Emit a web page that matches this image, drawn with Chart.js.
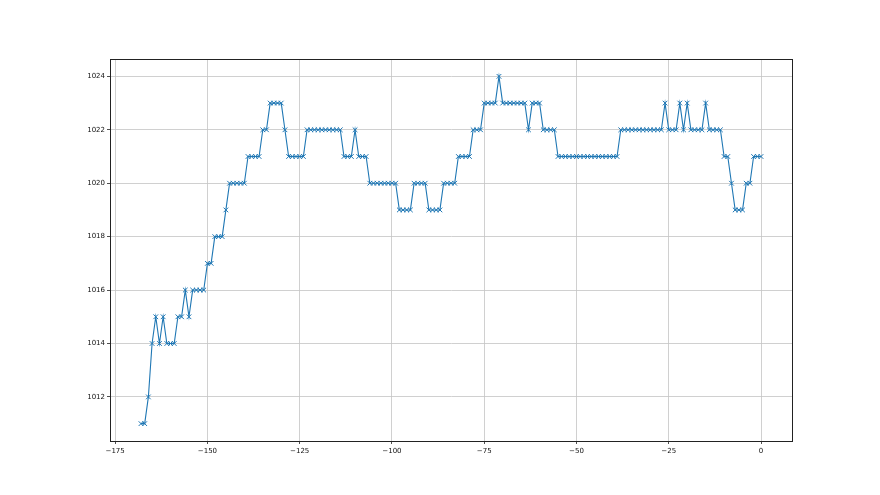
<!DOCTYPE html>
<html>
<head>
<meta charset="utf-8">
<script src="https://cdn.jsdelivr.net/npm/chart.js@4/dist/chart.umd.min.js"></script>
<style>
  html, body { margin: 0; padding: 0; background: #ffffff; }
  #c { display: block; }
</style>
</head>
<body>
<canvas id="c" width="880" height="495"></canvas>
<script>
// Hours relative to now
const hours = [
  -168,-167,-166,-165,-164,-163,-162,-161,-160,-159,-158,-157,-156,-155,-154,-153,-152,-151,-150,-149,
  -148,-147,-146,-145,-144,-143,-142,-141,-140,-139,-138,-137,-136,-135,-134,-133,-132,-131,-130,-129,
  -128,-127,-126,-125,-124,-123,-122,-121,-120,-119,-118,-117,-116,-115,-114,-113,-112,-111,-110,-109,
  -108,-107,-106,-105,-104,-103,-102,-101,-100,-99,-98,-97,-96,-95,-94,-93,-92,-91,-90,-89,
  -88,-87,-86,-85,-84,-83,-82,-81,-80,-79,-78,-77,-76,-75,-74,-73,-72,-71,-70,-69,
  -68,-67,-66,-65,-64,-63,-62,-61,-60,-59,-58,-57,-56,-55,-54,-53,-52,-51,-50,-49,
  -48,-47,-46,-45,-44,-43,-42,-41,-40,-39,-38,-37,-36,-35,-34,-33,-32,-31,-30,-29,
  -28,-27,-26,-25,-24,-23,-22,-21,-20,-19,-18,-17,-16,-15,-14,-13,-12,-11,-10,-9,
  -8,-7,-6,-5,-4,-3,-2,-1,0
];
// Pressure readings (hPa)
const pressure = [
  1011,1011,1012,1014,1015,1014,1015,1014,1014,1014,1015,1015,1016,1015,1016,1016,1016,1016,1017,1017,
  1018,1018,1018,1019,1020,1020,1020,1020,1020,1021,1021,1021,1021,1022,1022,1023,1023,1023,1023,1022,
  1021,1021,1021,1021,1021,1022,1022,1022,1022,1022,1022,1022,1022,1022,1022,1021,1021,1021,1022,1021,
  1021,1021,1020,1020,1020,1020,1020,1020,1020,1020,1019,1019,1019,1019,1020,1020,1020,1020,1019,1019,
  1019,1019,1020,1020,1020,1020,1021,1021,1021,1021,1022,1022,1022,1023,1023,1023,1023,1024,1023,1023,
  1023,1023,1023,1023,1023,1022,1023,1023,1023,1022,1022,1022,1022,1021,1021,1021,1021,1021,1021,1021,
  1021,1021,1021,1021,1021,1021,1021,1021,1021,1021,1022,1022,1022,1022,1022,1022,1022,1022,1022,1022,
  1022,1022,1023,1022,1022,1022,1023,1022,1023,1022,1022,1022,1022,1023,1022,1022,1022,1022,1021,1021,
  1020,1019,1019,1019,1020,1020,1021,1021,1021
];
const xTicks = [-175, -150, -125, -100, -75, -50, -25, 0];
const yTicks = [1012, 1014, 1016, 1018, 1020, 1022, 1024];

const points = hours.map((h, i) => ({ x: h, y: pressure[i] }));

const frameBox = {
  id: 'frameBox',
  afterDraw(chart) {
    const a = chart.chartArea;
    const ctx = chart.ctx;
    ctx.save();
    ctx.strokeStyle = '#222222';
    ctx.lineWidth = 1;
    ctx.strokeRect(Math.round(a.left) + 0.5, Math.round(a.top) + 0.5,
                   Math.round(a.right - a.left), Math.round(a.bottom - a.top));
    ctx.restore();
  }
};

const whiteBg = {
  id: 'whiteBg',
  beforeDraw(chart) {
    const ctx = chart.ctx;
    ctx.save();
    ctx.fillStyle = '#ffffff';
    ctx.fillRect(0, 0, chart.width, chart.height);
    ctx.restore();
  }
};

const fmt = v => String(v).replace('-', '\u2212');
const tickFont = { family: 'DejaVu Sans', size: 7 };

new Chart(document.getElementById('c'), {
  type: 'line',
  data: {
    datasets: [{
      data: points,
      borderColor: '#1f77b4',
      backgroundColor: '#1f77b4',
      borderWidth: 1.1,
      pointStyle: 'crossRot',
      pointRadius: 3.3,
      pointBorderWidth: 1,
      pointBorderColor: '#1f77b4',
      pointHoverRadius: 3.3,
      tension: 0,
      fill: false
    }]
  },
  options: {
    responsive: false,
    animation: false,
    events: [],
    layout: { padding: { left: 0, right: 88, top: 59, bottom: 0 } },
    plugins: { legend: { display: false }, tooltip: { enabled: false } },
    scales: {
      x: {
        type: 'linear',
        min: -176.4,
        max: 8.4,
        afterBuildTicks: axis => { axis.ticks = xTicks.map(v => ({ value: v })); },
        afterFit: axis => { axis.height = 54; },
        grid: { color: '#c4c4c4', lineWidth: 0.8, tickColor: '#222222', tickLength: 3, drawTicks: true },
        border: { display: true, color: '#222222', width: 1 },
        ticks: { font: tickFont, color: '#111111', padding: 3, maxRotation: 0, autoSkip: false, callback: v => fmt(v) }
      },
      y: {
        type: 'linear',
        min: 1010.35,
        max: 1024.65,
        afterBuildTicks: axis => { axis.ticks = yTicks.map(v => ({ value: v })); },
        afterFit: axis => { axis.width = 110; },
        grid: { color: '#c4c4c4', lineWidth: 0.8, tickColor: '#222222', tickLength: 3, drawTicks: true },
        border: { display: true, color: '#222222', width: 1 },
        ticks: { font: tickFont, color: '#111111', padding: 2, autoSkip: false, callback: v => fmt(v) }
      }
    }
  },
  plugins: [whiteBg, frameBox]
});
</script>
</body>
</html>
